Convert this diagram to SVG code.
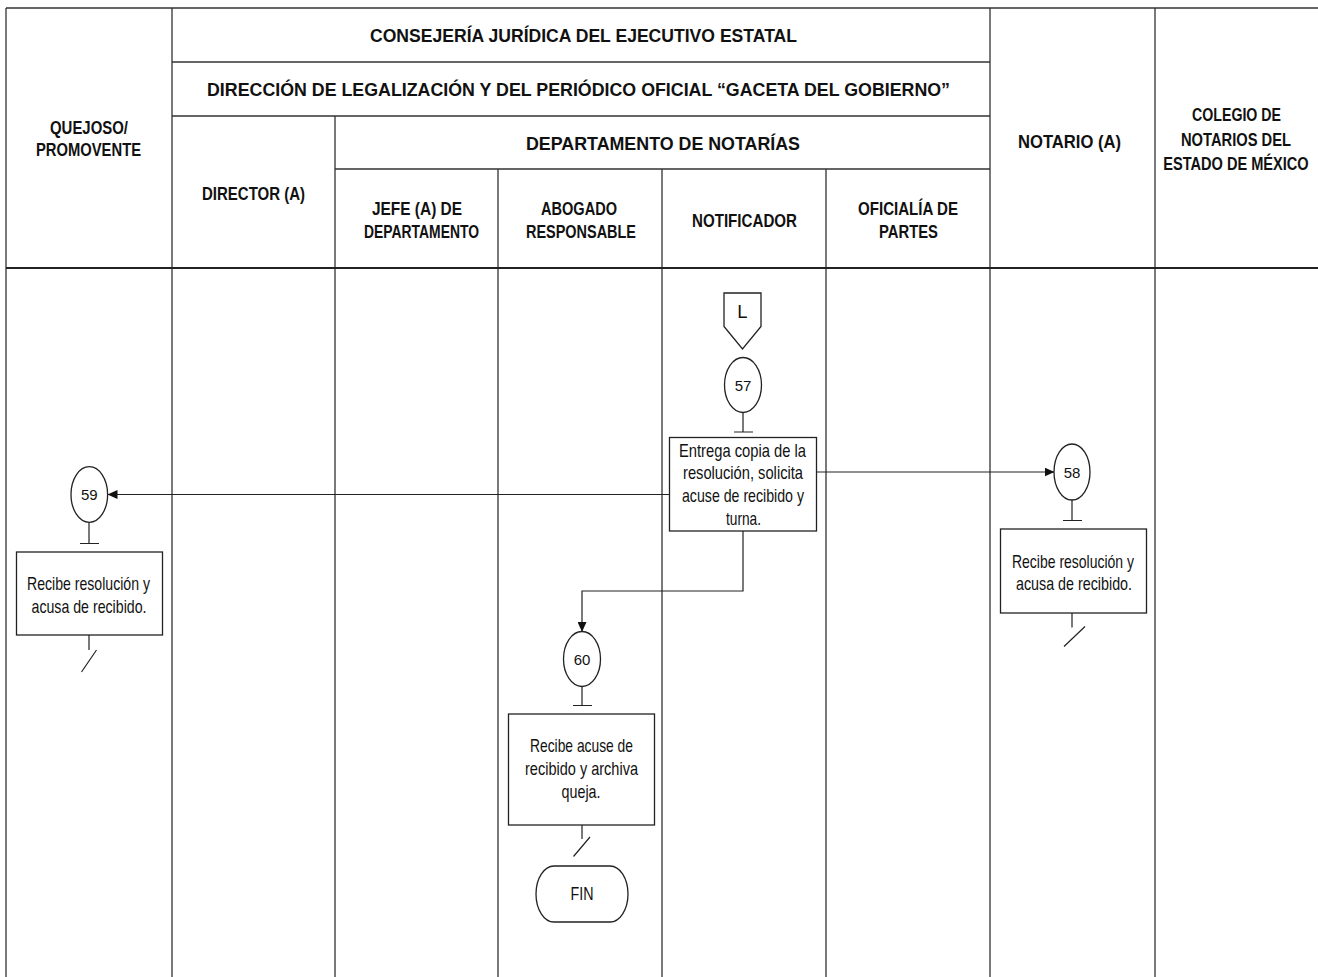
<svg xmlns="http://www.w3.org/2000/svg" width="1318" height="977" viewBox="0 0 1318 977">
<defs>
<style>
.ln{stroke:#222;stroke-width:1.2;fill:none}
.lane{stroke:#333;stroke-width:1.3;fill:none}
.shape{fill:#fff;stroke:#222;stroke-width:1.3}
.h1{font-family:"Liberation Sans",Arial,sans-serif;font-weight:bold;font-size:19px;text-anchor:middle;fill:#111}
.h2{font-family:"Liberation Sans",Arial,sans-serif;font-weight:bold;font-size:18px;text-anchor:middle;fill:#111}
.t{font-family:"Liberation Sans",Arial,sans-serif;font-size:18.5px;text-anchor:middle;fill:#111}
.n{font-family:"Liberation Sans",Arial,sans-serif;font-size:15px;text-anchor:middle;fill:#111}
</style>
<marker id="arr" markerUnits="userSpaceOnUse" markerWidth="10" markerHeight="9" refX="9.5" refY="4.5" orient="auto">
<path d="M0,0 L10,4.5 L0,9 Z" fill="#111"/>
</marker>
</defs>
<rect width="1318" height="977" fill="#fff"/>
<g id="header">
<path class="lane" d="M6,8 H1318 M172,62 H990 M172,116 H990 M335,169 H990"/>
<path class="lane" d="M6,8 V977 M172,8 V977 M335,116 V977 M498,169 V977 M662,169 V977 M826,169 V977 M990,8 V977 M1155,8 V977"/>
<path d="M6,268 H1318" stroke="#222" stroke-width="2.2"/>
<text class="h1" x="583.5" y="41.5" textLength="427" lengthAdjust="spacingAndGlyphs">CONSEJERÍA JURÍDICA DEL EJECUTIVO ESTATAL</text>
<text class="h1" x="578.5" y="95.5" textLength="743" lengthAdjust="spacingAndGlyphs">DIRECCIÓN DE LEGALIZACIÓN Y DEL PERIÓDICO OFICIAL “GACETA DEL GOBIERNO”</text>
<text class="h1" x="663" y="150" textLength="274" lengthAdjust="spacingAndGlyphs">DEPARTAMENTO DE NOTARÍAS</text>
<text class="h2" x="89" y="134" textLength="78" lengthAdjust="spacingAndGlyphs">QUEJOSO/</text>
<text class="h2" x="88.5" y="156" textLength="105" lengthAdjust="spacingAndGlyphs">PROMOVENTE</text>
<text class="h2" x="253.5" y="200" textLength="103" lengthAdjust="spacingAndGlyphs">DIRECTOR (A)</text>
<text class="h2" x="417" y="215" textLength="90" lengthAdjust="spacingAndGlyphs">JEFE (A) DE</text>
<text class="h2" x="421.5" y="238" textLength="115" lengthAdjust="spacingAndGlyphs">DEPARTAMENTO</text>
<text class="h2" x="579" y="215" textLength="76" lengthAdjust="spacingAndGlyphs">ABOGADO</text>
<text class="h2" x="581" y="238" textLength="110" lengthAdjust="spacingAndGlyphs">RESPONSABLE</text>
<text class="h2" x="744.5" y="227" textLength="105" lengthAdjust="spacingAndGlyphs">NOTIFICADOR</text>
<text class="h2" x="908" y="215" textLength="100" lengthAdjust="spacingAndGlyphs">OFICIALÍA DE</text>
<text class="h2" x="908.5" y="238" textLength="59" lengthAdjust="spacingAndGlyphs">PARTES</text>
<text class="h2" x="1069.5" y="148" textLength="103" lengthAdjust="spacingAndGlyphs">NOTARIO (A)</text>
<text class="h2" x="1236.5" y="121" textLength="89" lengthAdjust="spacingAndGlyphs">COLEGIO DE</text>
<text class="h2" x="1236" y="146" textLength="110" lengthAdjust="spacingAndGlyphs">NOTARIOS DEL</text>
<text class="h2" x="0" y="0" transform="translate(1236,170) scale(0.81,1)">ESTADO DE MÉXICO</text>
</g>
<g id="connectors">
<path class="ln" d="M669,494.5 H108" marker-end="url(#arr)"/>
<path class="ln" d="M817,472 H1054" marker-end="url(#arr)"/>
<path class="ln" d="M743,531 V591 H582 V631.5" marker-end="url(#arr)"/>
<path class="ln" d="M743,412.5 V432 M734,432 H753"/>
<path class="ln" d="M89,522 V543.5 M80,543.5 H99"/>
<path class="ln" d="M1072,500 V520.5 M1063,520.5 H1082"/>
<path class="ln" d="M582,686.5 V705.5 M573,705.5 H592"/>
<path class="ln" d="M89,635 V650 M96.5,650 L81.5,672"/>
<path class="ln" d="M1072,613 V627.5 M1085,626.5 L1064,646.5"/>
<path class="ln" d="M582,825 V839 M590,837 L573.5,856.5"/>
</g>
<g id="node-L">
<path class="shape" d="M724,293 H761 V326.5 L742.5,349 L724,326.5 Z"/>
<text class="t" x="742.5" y="318" font-size="17">L</text>
</g>
<g id="node-57">
<ellipse class="shape" cx="743" cy="385" rx="18.5" ry="27.5"/>
<text class="n" x="743" y="390.5">57</text>
</g>
<g id="node-57-box">
<rect class="shape" x="669.5" y="437.5" width="147" height="93.5"/>
<text class="t" x="742.5" y="456.5" textLength="127" lengthAdjust="spacingAndGlyphs">Entrega copia de la</text>
<text class="t" x="743" y="479" textLength="120" lengthAdjust="spacingAndGlyphs">resolución, solicita</text>
<text class="t" x="743" y="502" textLength="122" lengthAdjust="spacingAndGlyphs">acuse de recibido y</text>
<text class="t" x="743.5" y="525" textLength="35" lengthAdjust="spacingAndGlyphs">turna.</text>
</g>
<g id="node-59">
<ellipse class="shape" cx="89.3" cy="494.5" rx="18.3" ry="27.8"/>
<text class="n" x="89.3" y="500">59</text>
</g>
<g id="node-59-box">
<rect class="shape" x="16.5" y="552" width="146" height="83"/>
<text class="t" x="88.5" y="590" textLength="123" lengthAdjust="spacingAndGlyphs">Recibe resolución y</text>
<text class="t" x="89" y="612.5" textLength="115" lengthAdjust="spacingAndGlyphs">acusa de recibido.</text>
</g>
<g id="node-58">
<ellipse class="shape" cx="1072" cy="472" rx="18" ry="28"/>
<text class="n" x="1072" y="477.5">58</text>
</g>
<g id="node-58-box">
<rect class="shape" x="1000.5" y="529" width="146" height="84"/>
<text class="t" x="1073" y="567.5" textLength="122" lengthAdjust="spacingAndGlyphs">Recibe resolución y</text>
<text class="t" x="1074" y="590" textLength="116" lengthAdjust="spacingAndGlyphs">acusa de recibido.</text>
</g>
<g id="node-60">
<ellipse class="shape" cx="582" cy="659" rx="18.5" ry="27.5"/>
<text class="n" x="582" y="664.5">60</text>
</g>
<g id="node-60-box">
<rect class="shape" x="508.5" y="714" width="146" height="111"/>
<text class="t" x="581.5" y="752" textLength="103" lengthAdjust="spacingAndGlyphs">Recibe acuse de</text>
<text class="t" x="581.5" y="775" textLength="113" lengthAdjust="spacingAndGlyphs">recibido y archiva</text>
<text class="t" x="581" y="798" textLength="39" lengthAdjust="spacingAndGlyphs">queja.</text>
</g>
<g id="node-fin">
<rect class="shape" x="536" y="866" width="92" height="56" rx="18" ry="28"/>
<text class="t" x="582" y="900" font-size="17" textLength="23" lengthAdjust="spacingAndGlyphs">FIN</text>
</g>
</svg>
